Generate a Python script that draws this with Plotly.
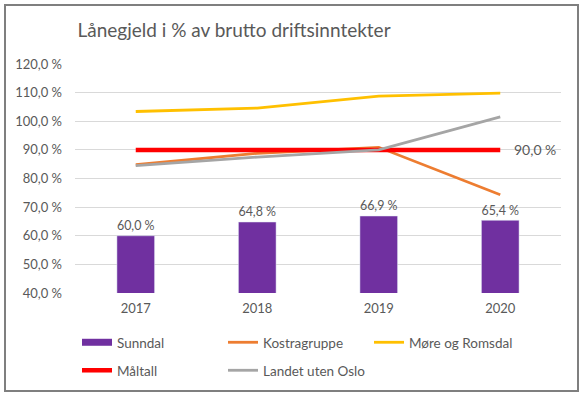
import plotly.graph_objects as go

years = ["2017", "2018", "2019", "2020"]
sunndal = [60.0, 64.8, 66.9, 65.4]
kostragruppe = [84.8, 88.8, 90.9, 74.3]
more_romsdal = [103.4, 104.6, 108.8, 109.8]
maltall = [90.0, 90.0, 90.0, 90.0]
landet = [84.5, 87.5, 90.0, 101.5]
y_ticks = [40, 50, 60, 70, 80, 90, 100, 110, 120]

def pct(v):
    return f"{v:.1f} %".replace(".", ",")

W, H = 583, 397
L, R, T, B = 75, 22, 64, 104
pw, ph = W - L - R, H - T - B

def px_x(x):
    return (x - L) / pw

def px_y(y):
    return (H - B - y) / ph

FONT = "Lato"
GREY_TXT = "#595959"

fig = go.Figure()

fig.add_trace(go.Bar(
    x=years, y=sunndal, name="Sunndal", marker_color="#7030A0",
    text=[pct(v) for v in sunndal], textposition="outside",
    textfont=dict(family=FONT, size=14, color=GREY_TXT),
    cliponaxis=False, showlegend=False, legendgroup="sunndal",
))
# legend proxy for the bar series (wide rectangle like the original)
fig.add_trace(go.Scatter(
    x=[None], y=[None], mode="lines", name="Sunndal",
    line=dict(color="#7030A0", width=7), legendgroup="sunndal", legend="legend",
))
fig.add_trace(go.Scatter(
    x=years, y=kostragruppe, mode="lines", name="Kostragruppe",
    line=dict(color="#ED7D31", width=2.8), legend="legend",
))
fig.add_trace(go.Scatter(
    x=years, y=more_romsdal, mode="lines", name="Møre og Romsdal",
    line=dict(color="#FFC000", width=2.8), legend="legend",
))
fig.add_trace(go.Scatter(
    x=years, y=maltall, mode="lines", name="Måltall",
    line=dict(color="#FF0000", width=4.5), legend="legend2",
))
fig.add_trace(go.Scatter(
    x=years, y=landet, mode="lines", name="Landet uten Oslo",
    line=dict(color="#A5A5A5", width=2.8), legend="legend2",
))

# label at the last Måltall point (category axis -> serial index)
fig.add_annotation(
    x=len(years) - 1, y=maltall[-1], text=pct(maltall[-1]), showarrow=False,
    xanchor="left", yanchor="middle", xshift=12,
    font=dict(family=FONT, size=14, color=GREY_TXT),
)

legend_common = dict(
    orientation="h", xanchor="left", yanchor="top",
    entrywidth=101, entrywidthmode="pixels",
    font=dict(family=FONT, size=13.5, color=GREY_TXT), bgcolor="rgba(0,0,0,0)",
)

fig.update_layout(
    width=W, height=H,
    margin=dict(l=L, r=R, t=T, b=B, autoexpand=False),
    paper_bgcolor="white", plot_bgcolor="white",
    font=dict(family=FONT, size=13, color=GREY_TXT),
    title=dict(
        text="Lånegjeld i % av brutto driftsinntekter",
        font=dict(family=FONT, size=19, color=GREY_TXT),
        xref="container", yref="container",
        x=234 / W, y=1 - 30 / H, xanchor="center", yanchor="middle",
    ),
    bargap=0.69,
    xaxis=dict(
        type="category", showgrid=False, showline=False, zeroline=False,
        range=[-0.5, len(years) - 0.5],
        ticks="", tickfont=dict(family=FONT, size=13, color=GREY_TXT),
        ticklabelstandoff=6, automargin=False,
    ),
    yaxis=dict(
        range=[40, 120], tickvals=y_ticks, ticktext=[pct(v) for v in y_ticks],
        showgrid=True, gridcolor="#D9D9D9", gridwidth=1,
        zeroline=False, showline=False, ticks="",
        tickfont=dict(family=FONT, size=13, color=GREY_TXT),
        ticklabelstandoff=12, automargin=False,
    ),
    legend=dict(x=px_x(77), y=px_y(327), **legend_common),
    legend2=dict(x=px_x(77), y=px_y(355), **legend_common),
    shapes=[dict(
        type="rect", xref="paper", yref="paper",
        x0=px_x(5), x1=px_x(578), y0=px_y(391), y1=px_y(5),
        line=dict(color="#7F7F7F", width=2), fillcolor="rgba(0,0,0,0)", layer="below",
    )],
)

fig.write_html(
    "out.html",
    config={"displayModeBar": False},
    post_script="document.body.style.margin='0';document.body.style.padding='0';",
)
